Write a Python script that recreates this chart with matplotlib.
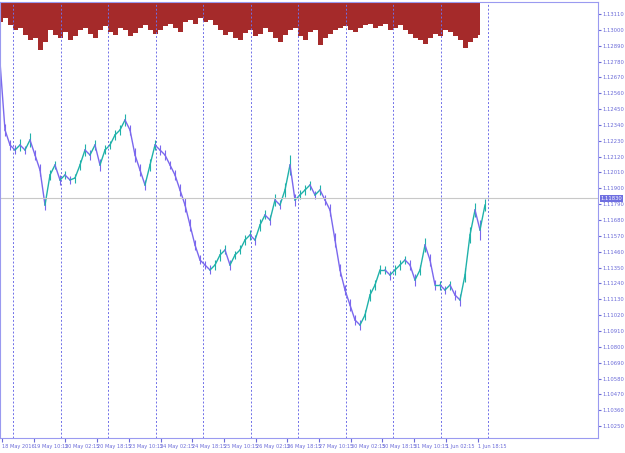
import numpy as np
import matplotlib.pyplot as plt

close_px = [62, 130, 145, 150, 145, 150, 140, 155, 170, 205, 175, 165, 180, 175, 180, 178,
            165, 150, 155, 145, 165, 150, 145, 135, 130, 120, 130, 155, 170, 185, 165, 145,
            150, 155, 165, 175, 190, 205, 225, 245, 260, 265, 270, 265, 255, 250, 265, 255,
            250, 240, 235, 240, 225, 215, 220, 200, 205, 190, 165, 200, 195, 190, 185, 195,
            190, 200, 210, 240, 270, 290, 305, 320, 325, 315, 295, 285, 270, 270, 275, 270,
            265, 260, 265, 280, 270, 245, 260, 285, 285, 290, 285, 295, 300, 275, 235, 210,
            230, 205]
# spread of each sample (px), gives candle ranges
range_px = [8, 12, 10, 9, 12, 8, 14, 10, 12, 10, 9, 8, 10, 7, 8, 9, 10, 12, 9, 10, 12, 9, 8, 10,
            9, 12, 10, 14, 12, 10, 12, 9, 10, 9, 8, 10, 12, 14, 12, 10, 9, 8, 9, 10, 12, 9, 10, 8,
            9, 10, 9, 10, 12, 9, 10, 12, 9, 14, 20, 12, 9, 10, 9, 8, 9, 10, 12, 14, 12, 10, 12, 10,
            9, 10, 12, 10, 9, 8, 9, 10, 9, 8, 9, 12, 10, 14, 12, 10, 9, 8, 9, 10, 12, 14, 16, 14,
            20, 12]
# top indicator depth (px from top), every 5 bars
depth_px = [22, 18, 25, 30, 28, 35, 40, 38, 50, 42, 30, 35, 38, 32, 40, 36, 30, 28, 34, 38,
            30, 26, 32, 35, 28, 30, 36, 33, 28, 25, 30, 34, 30, 26, 24, 28, 32, 22, 20, 24,
            18, 22, 20, 25, 30, 35, 32, 38, 40, 33, 30, 36, 34, 28, 32, 38, 42, 35, 30, 28,
            36, 40, 32, 30, 45, 38, 34, 30, 28, 26, 30, 32, 28, 25, 24, 28, 26, 24, 30, 28,
            25, 30, 34, 38, 40, 44, 38, 34, 36, 30, 32, 36, 40, 48, 42, 38, 35]
price_ticks = ["1.13110", "1.13000", "1.12890", "1.12780", "1.12670", "1.12560", "1.12450",
               "1.12340", "1.12230", "1.12120", "1.12010", "1.11900", "1.11790", "1.11680",
               "1.11570", "1.11460", "1.11350", "1.11240", "1.11130", "1.11020", "1.10910",
               "1.10800", "1.10690", "1.10580", "1.10470", "1.10360", "1.10250"]
time_labels = ["18 May 2016", "19 May 10:15", "20 May 02:15", "20 May 18:15", "23 May 10:15",
               "24 May 02:15", "24 May 18:15", "25 May 10:15", "26 May 02:15", "26 May 18:15",
               "27 May 10:15", "30 May 02:15", "30 May 18:15", "31 May 10:15", "1 Jun 02:15",
               "1 Jun 18:15"]
last_price = 1.11830

PX = 0.0011 / 15.85
def to_price(y):
    return 1.13110 - (np.asarray(y, dtype=float) - 14) * PX

fig = plt.figure(figsize=(6.25, 4.53), dpi=100)
ax = fig.add_axes([0.0, 1 - 438 / 453, 598 / 625, 436 / 453])
ymax, ymin = to_price(2), to_price(438)
ax.set_xlim(0, 598)
ax.set_ylim(ymin, ymax)

x = np.arange(len(close_px)) * 5
c = to_price(close_px)
rng = np.array(range_px) * PX
up = "#20b2aa"
dn = "#7b68ee"
for i in range(1, len(c)):
    col = up if c[i] >= c[i - 1] else dn
    ax.plot(x[i - 1:i + 1], c[i - 1:i + 1], color=col, lw=1)
    ax.vlines(x[i], c[i] - rng[i] / 2, c[i] + rng[i] / 2, color=col, lw=0.8)

# top indicator
xd = np.arange(len(depth_px)) * 5
ax.fill_between(xd, ymax, to_price(depth_px), step="mid", color="#a52a2a", lw=0)

ax.axhline(last_price, color="#c8c8c8", lw=0.8)
for gx in np.arange(13, 490, 47.5):
    ax.axvline(gx, color="#6f6fe8", lw=0.7, ls=(0, (2, 2)))

lab_col = "#6a6ad8"
ax.yaxis.tick_right()
ax.set_yticks(to_price([14 + 15.85 * i for i in range(len(price_ticks))]))
ax.set_yticklabels(price_ticks, fontsize=3.8, color=lab_col)
ax.tick_params(axis="y", length=2, color=lab_col, pad=1.5)
ax.set_xticks([2 + 31.7 * i for i in range(len(time_labels))])
ax.set_xticklabels(time_labels, fontsize=3.6, color=lab_col, ha="left")
ax.tick_params(axis="x", length=3, color=lab_col, pad=1)
for s in ax.spines.values():
    s.set_color("#9a9af0")
ax.text(1.004, last_price, "1.11830", transform=ax.get_yaxis_transform(), fontsize=3.8,
        color="white", va="center", ha="left",
        bbox=dict(boxstyle="square,pad=0.15", fc="#6f6fe0", ec="none"))

fig.savefig("out.png", dpi=100)
